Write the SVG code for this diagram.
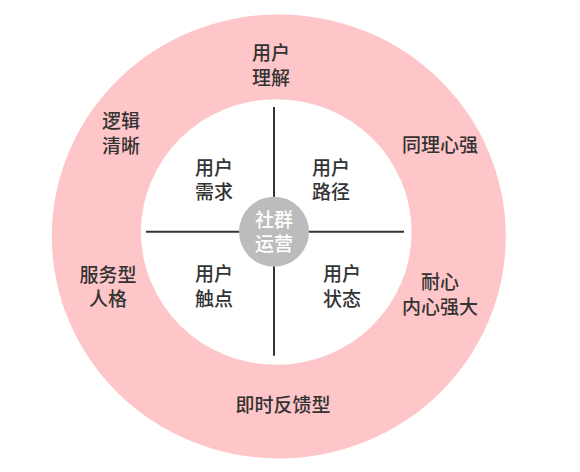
<svg xmlns="http://www.w3.org/2000/svg" width="580" height="472" viewBox="0 0 580 472">
<style>
.t{font-family:"Noto Sans CJK SC","Noto Sans",sans-serif;font-size:19px;font-weight:500;fill:#333;text-anchor:middle}
.w{fill:#fff}
.ln{stroke:#333;stroke-width:2;fill:none}
</style>
<rect width="580" height="472" fill="#fff"/>
<g id="outer-ring">
<ellipse cx="278.8" cy="236.4" rx="227" ry="222" fill="#ffc6c9"/>
<ellipse cx="276.3" cy="232" rx="135.3" ry="132.8" fill="#fff"/>
</g>
<g id="connectors">
<line class="ln" x1="146" y1="231.7" x2="404" y2="231.7"/>
<line class="ln" x1="274" y1="107" x2="274" y2="355.7"/>
</g>
<g id="center">
<circle cx="274" cy="231.7" r="35" fill="#bcbcbc"/>
<text class="t w" x="274" y="226.5">社群<tspan x="274" dy="24.6">运营</tspan></text>
</g>
<g id="n-lijie"><text class="t" x="271" y="60.2">用户<tspan x="271" dy="24.6">理解</tspan></text></g>
<g id="n-luoji"><text class="t" x="121" y="128.2">逻辑<tspan x="121" dy="24.6">清晰</tspan></text></g>
<g id="n-tongli"><text class="t" x="440" y="151.5">同理心强</text></g>
<g id="n-fuwu"><text class="t" x="108" y="281.5">服务型<tspan x="108" dy="24.6">人格</tspan></text></g>
<g id="n-naixin"><text class="t" x="440" y="289.2">耐心<tspan x="440" dy="24.6">内心强大</tspan></text></g>
<g id="n-jishi"><text class="t" x="283" y="411.5">即时反馈型</text></g>
<g id="n-xuqiu"><text class="t" x="214" y="174.5">用户<tspan x="214" dy="24.6">需求</tspan></text></g>
<g id="n-lujing"><text class="t" x="331" y="174.5">用户<tspan x="331" dy="24.6">路径</tspan></text></g>
<g id="n-chudian"><text class="t" x="214" y="281">用户<tspan x="214" dy="24.6">触点</tspan></text></g>
<g id="n-zhuangtai"><text class="t" x="342" y="281">用户<tspan x="342" dy="24.6">状态</tspan></text></g>
</svg>
